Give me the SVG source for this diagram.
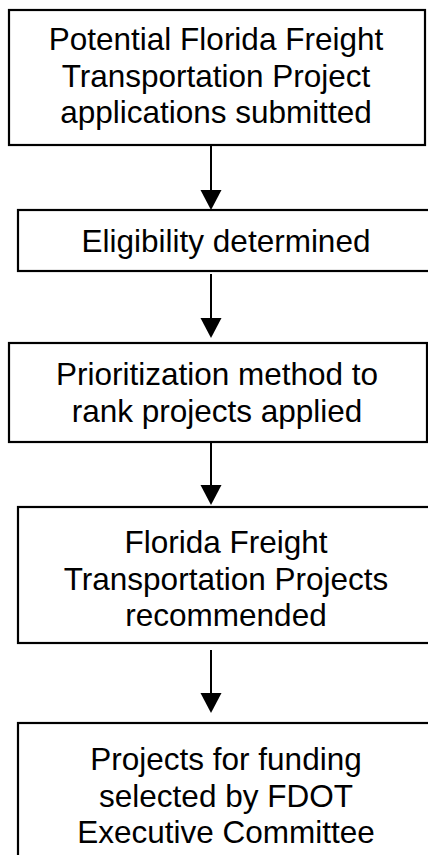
<svg xmlns="http://www.w3.org/2000/svg" width="428" height="855" viewBox="0 0 428 855">
  <style>
    .box { fill: #ffffff; stroke: #000000; stroke-width: 2.2; }
    .lbl { font-family: "Liberation Sans", Arial, sans-serif; font-size: 31.5px; fill: #000000; text-anchor: middle; }
    .conn { stroke: #000000; stroke-width: 2; fill: none; }
    .head { fill: #000000; }
  </style>
  <rect width="428" height="855" fill="#ffffff"/>

  <!-- vertical flow arrows between the steps -->
  <g id="connectors">
    <line class="conn" x1="211" y1="145" x2="211" y2="192"/>
    <polygon class="head" points="200.5,190 221.5,190 211,210"/>
    <line class="conn" x1="211" y1="274" x2="211" y2="320"/>
    <polygon class="head" points="200.5,318 221.5,318 211,338"/>
    <line class="conn" x1="211" y1="442" x2="211" y2="487"/>
    <polygon class="head" points="200.5,485 221.5,485 211,505"/>
    <line class="conn" x1="211" y1="650" x2="211" y2="695"/>
    <polygon class="head" points="200.5,693 221.5,693 211,713"/>
  </g>

  <g id="submitted">
    <rect class="box" x="9" y="10" width="416" height="135"/>
    <text class="lbl" x="216" y="50">Potential Florida Freight</text>
    <text class="lbl" x="216" y="87">Transportation Project</text>
    <text class="lbl" x="216" y="123">applications submitted</text>
  </g>

  <g id="eligibility">
    <rect class="box" x="18" y="210" width="416" height="61"/>
    <text class="lbl" x="226" y="252">Eligibility determined</text>
  </g>

  <g id="prioritization">
    <rect class="box" x="9" y="343" width="418" height="99"/>
    <text class="lbl" x="217" y="385">Prioritization method to</text>
    <text class="lbl" x="217" y="422">rank projects applied</text>
  </g>

  <g id="recommended">
    <rect class="box" x="18" y="507" width="416" height="136"/>
    <text class="lbl" x="226" y="553">Florida Freight</text>
    <text class="lbl" x="226" y="590">Transportation Projects</text>
    <text class="lbl" x="226" y="626">recommended</text>
  </g>

  <g id="selected">
    <rect class="box" x="18" y="723" width="416" height="150"/>
    <text class="lbl" x="226" y="770">Projects for funding</text>
    <text class="lbl" x="226" y="807">selected by FDOT</text>
    <text class="lbl" x="226" y="843">Executive Committee</text>
  </g>
</svg>
